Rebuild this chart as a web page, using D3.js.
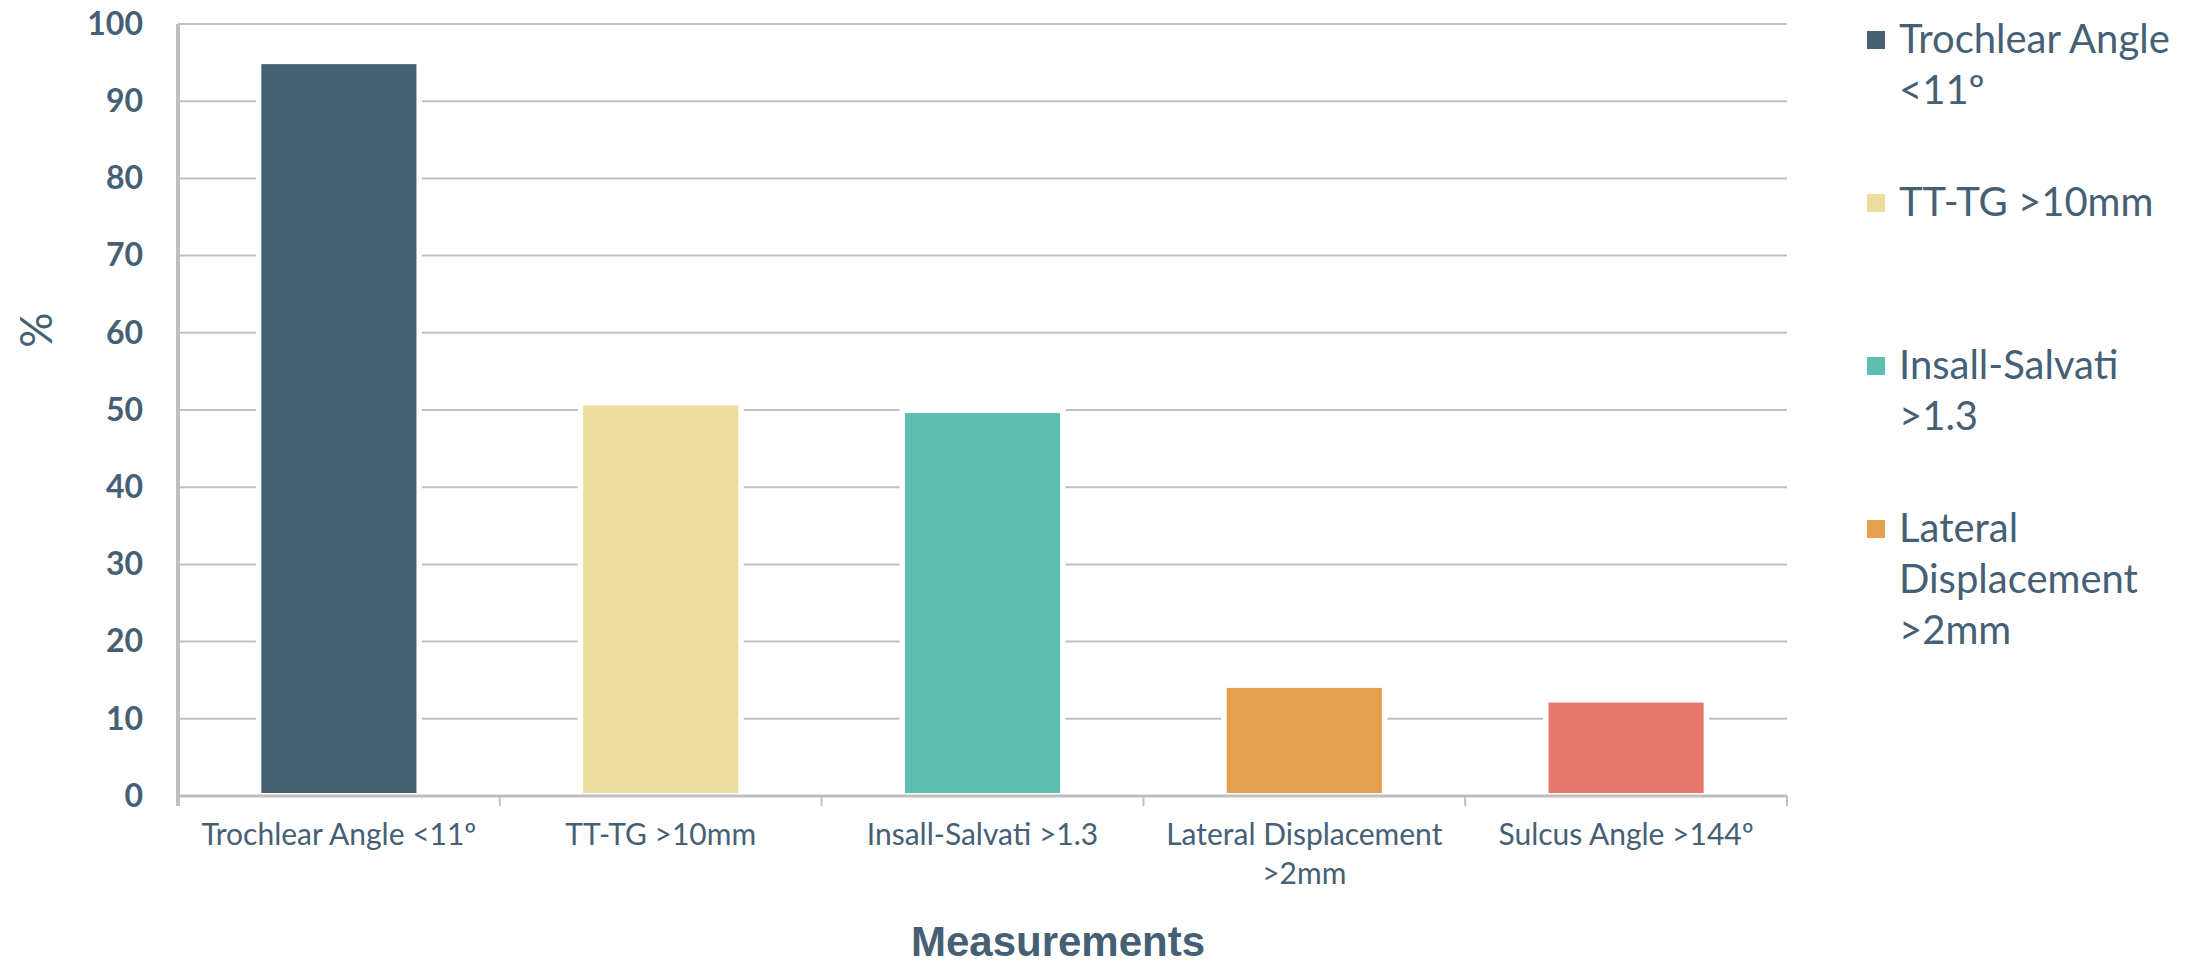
<!DOCTYPE html>
<html>
<head>
<meta charset="utf-8">
<script src="https://cdn.jsdelivr.net/npm/d3@7"></script>
<style>
  body { margin: 0; background: #fff; }
  svg { display: block; }
</style>
</head>
<body>
<svg id="chart" width="2198" height="965"></svg>
<script>
// bar chart - % of patients per measurement

var categories = ["Trochlear Angle <11º", "TT-TG >10mm", "Insall-Salvati >1.3", "Lateral Displacement >2mm", "Sulcus Angle >144º"];
var values = [94.8, 50.6, 49.6, 14.0, 12.1];
var barColors = ["#456072", "#EEDBA0", "#5EBDB1", "#E69F4C", "#E5776B"];
var yTickValues = [0, 10, 20, 30, 40, 50, 60, 70, 80, 90, 100];
// the legend in the original only has room for the first four entries
var legendItems = categories.slice(0, 4);

var textColor = "#456075",
    gridColor = "#BFBFBF";

var svg = d3.select("#chart"),
    plotLeft = 178, plotRight = 1787, plotTop = 24, plotBottom = 796;

var x = d3.scaleBand()
    .domain(categories)
    .range([plotLeft, plotRight]);

var y = d3.scaleLinear()
    .domain([0, 100])
    .range([plotBottom, plotTop]);

var color = d3.scaleOrdinal()
    .domain(categories)
    .range(barColors);

function wrap(sel, width, lineHeight) {
  sel.each(function() {
    var text = d3.select(this),
        words = text.text().split(/\s+/),
        tx = text.attr("x") || 0,
        line = [],
        tspan = text.text(null).append("tspan").attr("x", tx).attr("dy", 0);
    words.forEach(function(w) {
      line.push(w);
      tspan.text(line.join(" "));
      if (tspan.node().getComputedTextLength() > width && line.length > 1) {
        line.pop();
        tspan.text(line.join(" "));
        line = [w];
        tspan = text.append("tspan").attr("x", tx).attr("dy", lineHeight).text(w);
      }
    });
  });
}

// gridlines
svg.append("g")
  .selectAll("line")
  .data(yTickValues.filter(function(d) { return d > 0; }))
  .enter().append("line")
    .attr("x1", plotLeft)
    .attr("x2", plotRight)
    .attr("y1", function(d) { return y(d); })
    .attr("y2", function(d) { return y(d); })
    .attr("stroke", gridColor)
    .attr("stroke-width", 2);

// bars (white halo cuts the gridlines like in the original)
var barW = x.bandwidth() * 0.482;
svg.append("g")
  .selectAll("rect")
  .data(values)
  .enter().append("rect")
    .attr("x", function(d, i) { return x(categories[i]) + (x.bandwidth() - barW) / 2; })
    .attr("y", function(d) { return y(d); })
    .attr("width", barW)
    .attr("height", function(d) { return y(0) - y(d) - 3; })
    .attr("fill", function(d, i) { return color(categories[i]); })
    .attr("stroke", "#fff")
    .attr("stroke-width", 11)
    .style("paint-order", "stroke");

// axis lines and boundary ticks
svg.append("line")
    .attr("x1", plotLeft).attr("x2", plotLeft)
    .attr("y1", plotTop).attr("y2", plotBottom + 10)
    .attr("stroke", gridColor).attr("stroke-width", 4);

svg.append("line")
    .attr("x1", plotLeft).attr("x2", plotRight)
    .attr("y1", plotBottom).attr("y2", plotBottom)
    .attr("stroke", gridColor).attr("stroke-width", 3);

svg.append("g")
  .selectAll("line")
  .data(categories.slice(1).map(function(c) { return x(c); }).concat([plotRight]))
  .enter().append("line")
    .attr("x1", function(d) { return d; })
    .attr("x2", function(d) { return d; })
    .attr("y1", plotBottom)
    .attr("y2", plotBottom + 10)
    .attr("stroke", gridColor)
    .attr("stroke-width", 2);

// y axis labels
var yAxis = svg.append("g")
    .attr("transform", "translate(" + plotLeft + ",0)")
    .call(d3.axisLeft(y).tickValues(yTickValues).tickSize(0).tickPadding(35));
yAxis.select(".domain").remove();
yAxis.selectAll("text")
    .attr("fill", textColor)
    .style("font-family", "Lato")
    .style("font-weight", "bold")
    .style("font-size", "32px");

// x axis labels
var xAxis = svg.append("g")
    .attr("transform", "translate(0," + plotBottom + ")")
    .call(d3.axisBottom(x).tickSize(0));
xAxis.select(".domain").remove();
xAxis.selectAll("text")
    .attr("y", 49)
    .attr("dy", 0)
    .attr("fill", textColor)
    .style("font-family", "Lato")
    .style("font-size", "30px")
    .call(wrap, 300, 39);

// axis titles
svg.append("text")
    .attr("transform", "translate(37,330) rotate(-90)")
    .attr("text-anchor", "middle")
    .attr("dy", "0.35em")
    .attr("fill", textColor)
    .style("font-family", "Lato")
    .style("font-size", "44px")
    .text("%");

svg.append("text")
    .attr("x", 1058)
    .attr("y", 956)
    .attr("text-anchor", "middle")
    .attr("fill", textColor)
    .style("font-family", "Liberation Sans")
    .style("font-weight", "bold")
    .style("font-size", "42px")
    .text("Measurements");

// legend
var legend = svg.append("g")
  .selectAll(".legend")
  .data(legendItems)
  .enter().append("g")
    .attr("class", "legend")
    .attr("transform", function(d, i) { return "translate(1867," + (40 + i * 163) + ")"; });

legend.append("rect")
    .attr("y", -9)
    .attr("width", 18)
    .attr("height", 18)
    .attr("fill", function(d) { return color(d); });

legend.append("text")
    .attr("x", 32)
    .attr("y", 13)
    .attr("fill", textColor)
    .style("font-family", "Lato")
    .style("font-size", "40px")
    .text(function(d) { return d; })
    .call(wrap, 285, 51);
</script>
</body>
</html>
